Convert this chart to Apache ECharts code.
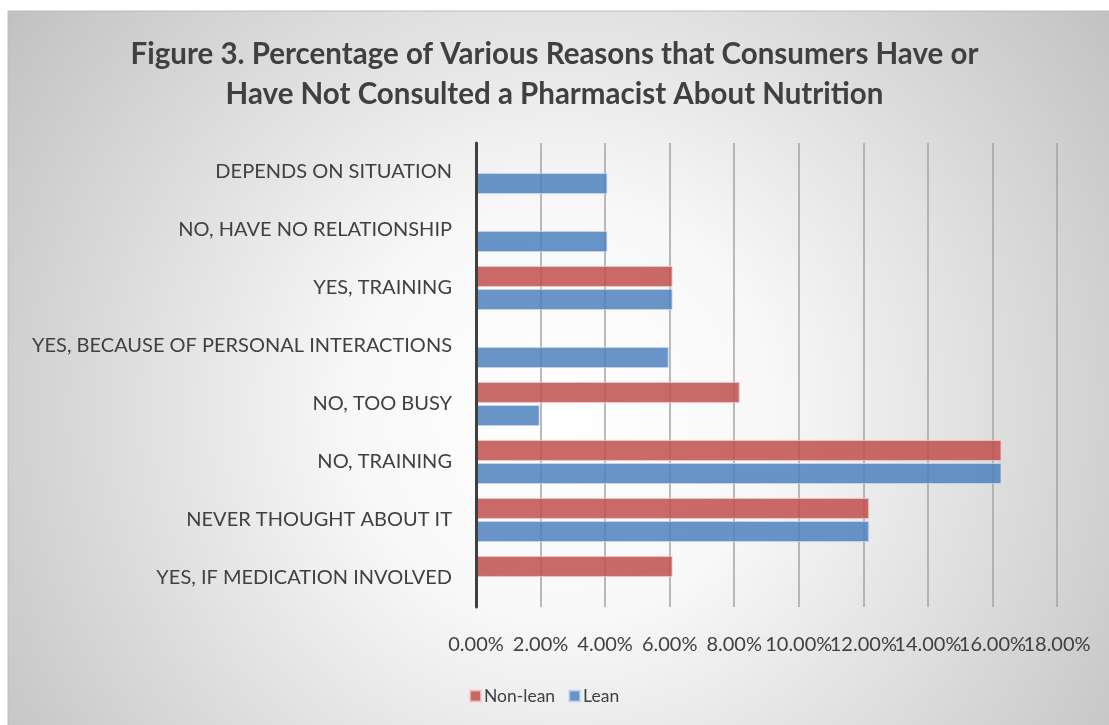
<!DOCTYPE html>
<html>
<head>
<meta charset="utf-8">
<script src="https://cdn.jsdelivr.net/npm/echarts@6/dist/echarts.min.js"></script>
<style>
html,body{margin:0;padding:0;background:#fff;}
#chart{width:1109px;height:725px;}
</style>
</head>
<body>
<div id="chart"></div>
<script>
const titleLines = ['Figure 3. Percentage of Various Reasons that Consumers Have or', 'Have Not Consulted a Pharmacist About Nutrition'];
const categories = ['DEPENDS ON SITUATION', 'NO, HAVE NO RELATIONSHIP', 'YES, TRAINING', 'YES, BECAUSE OF PERSONAL INTERACTIONS', 'NO, TOO BUSY', 'NO, TRAINING', 'NEVER THOUGHT ABOUT IT', 'YES, IF MEDICATION INVOLVED'];
const seriesNames = ['Non-lean', 'Lean'];
const nonLean = [0, 0, 6.09, 0, 8.17, 16.28, 12.18, 6.09];
const lean = [4.07, 4.07, 6.09, 5.97, 1.97, 16.28, 12.18, 0];
const xTicks = {min: 0, max: 18, interval: 2};

// zero values draw nothing (as in the source chart)
const toBars = arr => arr.map(v => (v === 0 ? '-' : v));

const FONT = 'Lato, "Open Sans", sans-serif';
// tick labels are split over two identical axes (alternate ticks) so that
// neighbouring labels may touch, as in the source, without being auto-hidden
const tickLabel = parity => ({
  fontFamily: FONT, fontSize: 20, color: '#404040', margin: 28,
  showMinLabel: true, showMaxLabel: true,
  formatter: v => (Math.round(v / xTicks.interval) % 2 === parity ? v.toFixed(2) + '%' : '')
});
const chart = echarts.init(document.getElementById('chart'), null, {renderer: 'canvas'});
chart.setOption({
  backgroundColor: '#ffffff',
  animation: false,
  graphic: [{
    type: 'rect', z: -10, silent: true,
    shape: {x: 8, y: 11, width: 1110, height: 730},
    style: {
      fill: new echarts.graphic.RadialGradient(0.5, 0.55, 0.95, [
        {offset: 0, color: '#ffffff'},
        {offset: 0.3, color: '#f8f8f8'},
        {offset: 1, color: '#c0c0c0'}
      ]),
      stroke: '#bdbdbd', lineWidth: 1
    }
  }],
  title: {
    text: titleLines.join('\n'),
    left: 'center', top: 29,
    textStyle: {fontFamily: FONT, fontWeight: 'bold', fontSize: 29.5, color: '#404040', lineHeight: 40}
  },
  legend: {
    data: seriesNames,
    left: 464, top: 682,
    itemWidth: 11, itemHeight: 11, itemGap: 13,
    icon: 'rect',
    textStyle: {fontFamily: FONT, fontSize: 17.5, color: '#404040', padding: [0, 0, 0, -2]}
  },
  grid: {left: 476, right: 52, top: 143, bottom: 118, containLabel: false},
  xAxis: [
    {
      type: 'value', min: xTicks.min, max: xTicks.max, interval: xTicks.interval, position: 'bottom',
      axisLine: {show: false}, axisTick: {show: false},
      axisLabel: tickLabel(0),
      splitLine: {show: true, lineStyle: {color: '#a3a3a3', width: 1.5}}
    },
    {
      type: 'value', min: xTicks.min, max: xTicks.max, interval: xTicks.interval, position: 'bottom', offset: 0,
      axisLine: {show: false}, axisTick: {show: false},
      axisLabel: tickLabel(1),
      splitLine: {show: false}
    }
  ],
  yAxis: {
    type: 'category', data: categories, inverse: true, z: 5,
    axisLine: {show: true, lineStyle: {color: '#404040', width: 3}},
    axisTick: {show: false},
    axisLabel: {fontFamily: FONT, fontSize: 20, color: '#404040', margin: 24}
  },
  series: [
    {name: seriesNames[0], type: 'bar', xAxisIndex: 0, data: toBars(nonLean), barWidth: 21, barGap: '10%',
      itemStyle: {color: 'rgba(192,80,77,0.85)', borderColor: 'rgba(240,200,200,0.8)', borderWidth: 1}},
    {name: seriesNames[1], type: 'bar', xAxisIndex: 0, data: toBars(lean), barWidth: 21, barGap: '10%',
      itemStyle: {color: 'rgba(79,129,189,0.85)', borderColor: 'rgba(200,215,240,0.8)', borderWidth: 1}}
  ]
});
</script>
</body>
</html>
